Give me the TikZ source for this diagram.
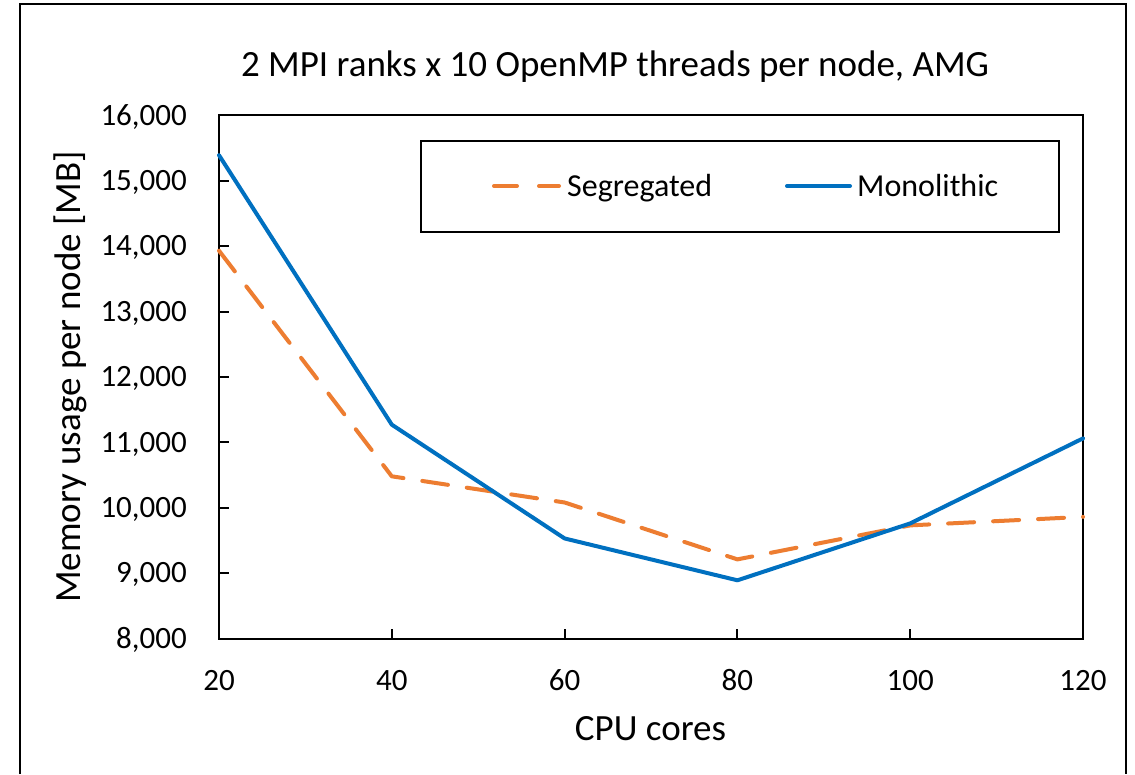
\documentclass[tikz,border=0pt]{standalone}
\usepackage{fontspec}
\setmainfont{Carlito}
\definecolor{monoblue}{HTML}{0070C0}
\definecolor{segorange}{HTML}{ED7D31}
\begin{document}
\begin{tikzpicture}[x=1pt,y=-1pt,
  frameline/.style={line width=2pt, black},
  axisline/.style={line width=2pt, black},
  monoline/.style={line width=4pt, color=monoblue, line join=round, line cap=round},
  segline/.style={line width=4pt, color=segorange, line join=round, line cap=round, dash pattern=on 26pt off 19pt},
  ticklab/.style={font=\fontsize{31}{37}\selectfont, inner sep=0pt},
  legtext/.style={font=\fontsize{32}{38}\selectfont, inner sep=0pt},
  axtitle/.style={font=\fontsize{37}{44}\selectfont, inner sep=0pt},
]
\useasboundingbox (0,0) rectangle (1135,774);
\fill[white] (0,0) rectangle (1135,774);
\draw[frameline] (20,774) -- (20,4) -- (1126,4) -- (1126,774);

% title and axis titles
\node[axtitle, anchor=base] (title) at (615,76.7) {2 MPI ranks x 10 OpenMP threads per node, AMG};
\node[axtitle, anchor=base] (xtitle) at (650.5,740) {CPU cores};
\node[axtitle, anchor=base, rotate=90] (ytitle) at (80,377) {Memory usage per node [MB]};

\begin{scope}[shift={(46.2pt,-1161.7pt)}, x=8.64pt, y=0.0654pt]
  % data points
  \coordinate (s20) at (20,13930);
  \coordinate (s40) at (40,10480);
  \coordinate (s60) at (60,10080);
  \coordinate (s80) at (80,9210);
  \coordinate (s100) at (100,9730);
  \coordinate (s120) at (120,9860);
  \coordinate (m20) at (20,15390);
  \coordinate (m40) at (40,11270);
  \coordinate (m60) at (60,9530);
  \coordinate (m80) at (80,8890);
  \coordinate (m100) at (100,9760);
  \coordinate (m120) at (120,11060);

  % plot area
  \draw[axisline] (20,8000) rectangle (120,16000);
  \foreach \v in {9,...,15}
    \draw[axisline] (20,{\v*1000}) -- ++(10pt,0);
  \foreach \c in {40,60,80,100}
    \draw[axisline] (\c,8000) -- ++(0,10pt);

  % tick labels
  \foreach \v in {8,...,16}
    \node[ticklab, anchor=base east, xshift=-32pt, yshift=-9.7pt] (yl\v) at (20,{\v*1000}) {\v,000};
  \foreach \c in {20,40,...,120}
    \node[ticklab, anchor=base, yshift=-51.5pt] (xl\c) at (\c,8000) {\c};

  % series
  \draw[segline] (s20) -- (s40) -- (s60) -- (s80) -- (s100) -- (s120);
  \draw[monoline] (m20) -- (m40) -- (m60) -- (m80) -- (m100) -- (m120);
\end{scope}

% legend
\node[draw, line width=1.5pt, minimum width=638pt, minimum height=91pt, anchor=north west, inner sep=0pt] (legend) at (420,140) {};
\coordinate (sega) at (494,186);
\coordinate (segb) at (559,186);
\coordinate (mona) at (787,186);
\coordinate (monb) at (850,186);
\draw[segline, dash pattern=on 23pt off 22pt] (sega) -- (segb);
\draw[monoline] (mona) -- (monb);
\node[legtext, anchor=base west] (segtxt) at (567,196) {Segregated};
\node[legtext, anchor=base west] (montxt) at (857,196) {Monolithic};
\end{tikzpicture}
\end{document}
